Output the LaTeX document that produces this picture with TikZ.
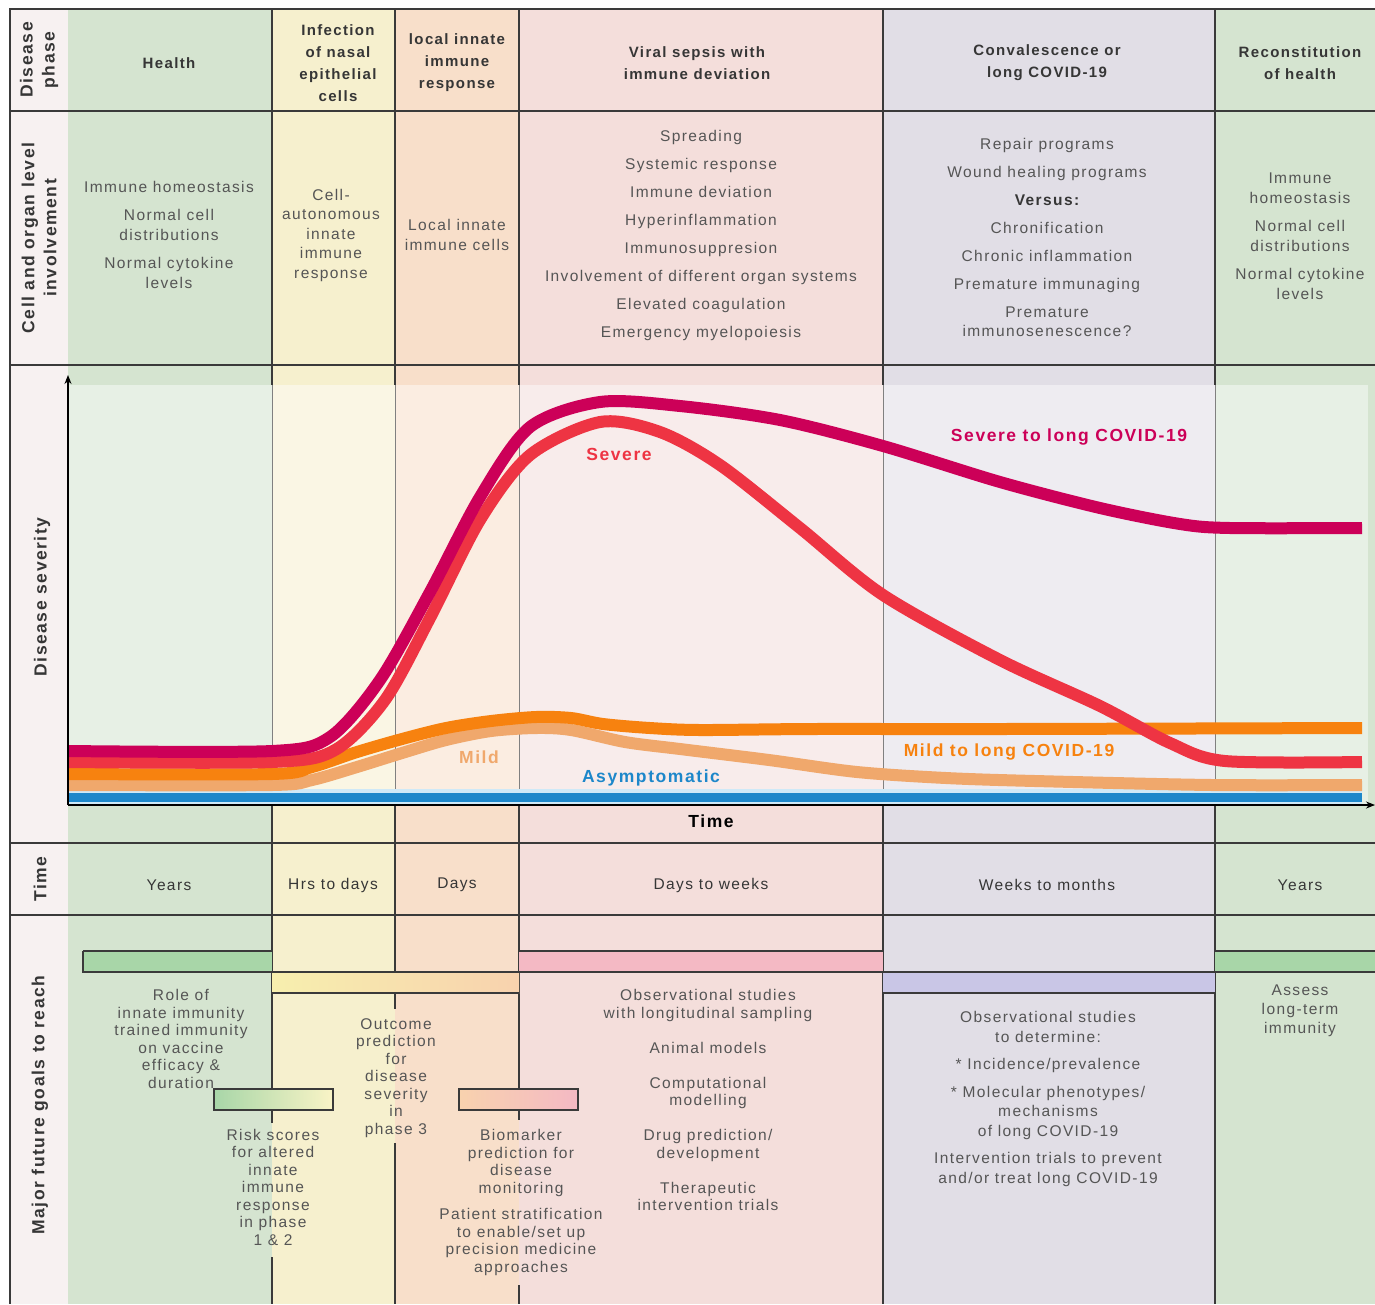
\documentclass[tikz,border=0pt]{standalone}
\usepackage{fontspec}
\setmainfont{Liberation Sans}[LetterSpace=9]
\usetikzlibrary{arrows.meta}

% phase colours
\definecolor{labcol}{HTML}{F7F1F1}
\definecolor{healthcol}{HTML}{D5E4D0}
\definecolor{infcol}{HTML}{F6F0CE}
\definecolor{loccol}{HTML}{F8DFCA}
\definecolor{sepcol}{HTML}{F4DEDB}
\definecolor{convcol}{HTML}{E1DEE6}
% curve colours
\definecolor{sevlong}{HTML}{CC0058}
\definecolor{sev}{HTML}{EE3443}
\definecolor{mildlong}{HTML}{F7820F}
\definecolor{mild}{HTML}{F0A86C}
\definecolor{asym}{HTML}{1D87CA}
\definecolor{asymhalo}{HTML}{CFE9F7}
% bar colours
\definecolor{bargreen}{HTML}{A8D6A8}
\definecolor{barpink}{HTML}{F4B9C4}
\definecolor{barlav}{HTML}{C9C6E6}
\definecolor{baryel}{HTML}{F7EFAE}
\definecolor{barpeach}{HTML}{F8D2AE}
% text and rules
\definecolor{txtgray}{HTML}{555555}
\definecolor{hdrgray}{HTML}{363636}
\definecolor{rulegray}{HTML}{3A3A3A}

\tikzset{
  hdr/.style={font=\fontsize{15}{22}\selectfont\bfseries, text=hdrgray, align=center, inner sep=0},
  rowlab/.style={font=\fontsize{17.5}{22}\selectfont\bfseries, text=hdrgray, align=center, rotate=90, inner sep=0},
  body/.style={font=\fontsize{15.5}{20}\selectfont, text=txtgray, align=center, inner sep=0},
  goal/.style={font=\fontsize{15.5}{17.5}\selectfont, text=txtgray, align=center, inner sep=0},
  tlab/.style={font=\fontsize{15.5}{20}\selectfont, text=hdrgray, inner sep=0},
  clab/.style={font=\fontsize{17.5}{20}\selectfont\bfseries, inner sep=0},
  curve/.style={line width=12pt, line cap=butt},
  rowrule/.style={rulegray, line width=1.6pt},
  colrule/.style={rulegray, line width=1.2pt},
  chartrule/.style={gray, line width=0.7pt},
  bar/.style={rulegray, line width=1.3pt},
}

\begin{document}
\begin{tikzpicture}[x=1pt, y=-1pt]
\useasboundingbox (0,0) rectangle (1375,1304);
\fill[white] (0,0) rectangle (1375,1304);

% phase columns
\fill[labcol] (10,9) rectangle (68,1304);
\fill[healthcol] (68,9) rectangle (272,1304);
\fill[infcol] (272,9) rectangle (395,1304);
\fill[loccol] (395,9) rectangle (519,1304);
\fill[sepcol] (519,9) rectangle (883,1304);
\fill[convcol] (883,9) rectangle (1215,1304);
\fill[healthcol] (1215,9) rectangle (1375,1304);

% veil behind the curves
\fill[white, opacity=0.45] (68,385) rectangle (1368,805);

% column rules
\foreach \xc in {272,395,519,883,1215} {
  \draw[colrule] (\xc,9) -- (\xc,385);
  \draw[chartrule] (\xc,385) -- (\xc,805);
  \draw[colrule] (\xc,805) -- (\xc,915);
}
\draw[colrule] (272,915) -- (272,1089) (272,1110) -- (272,1123) (272,1257) -- (272,1304);
\draw[colrule] (395,915) -- (395,972) (395,993) -- (395,1009) (395,1143) -- (395,1304);
\draw[colrule] (519,915) -- (519,1089) (519,1110) -- (519,1120) (519,1285) -- (519,1304);
\draw[colrule] (883,915) -- (883,1304) (1215,915) -- (1215,1304);

% row rules
\foreach \yr in {111,365,843,915}
  \draw[rowrule] (10,\yr) -- (1375,\yr);
\draw[rowrule] (1375,9) -- (10,9) -- (10,1304);

% row labels
\node[rowlab] (labphase) at (39,60) {Disease\\phase};
\node[rowlab] (labcell) at (39,238) {Cell and organ level\\involvement};
\node[rowlab] (labsev) at (42,597) {Disease severity};
\node[rowlab] (labtime) at (40,879) {Time};
\node[rowlab] (labgoal) at (40,1105) {Major future goals to reach};

% disease phases
\node[hdr] (hhealth) at (169,63) {Health};
\node[hdr] (hinf) at (338,63) {Infection\\of nasal\\epithelial\\cells};
\node[hdr] (hloc) at (457,63) {local innate\\immune\\response};
\node[hdr] (hsep) at (697,63) {Viral sepsis with\\immune deviation};
\node[hdr] (hconv) at (1047,63) {Convalescence or\\long COVID-19};
\node[hdr] (hrec) at (1300,63) {Reconstitution\\of health};

% cell and organ level
\node[body] (chealth) at (169,235) {Immune homeostasis\\[8pt]Normal cell\\distributions\\[8pt]Normal cytokine\\levels};
\node[body, font=\fontsize{15.5}{19.5}\selectfont] (cinf) at (331,235) {Cell-\\autonomous\\innate\\immune\\response};
\node[body, font=\fontsize{15.5}{19.5}\selectfont] (cloc) at (457,235) {Local innate\\immune cells};
\node[body, font=\fontsize{15.5}{28}\selectfont] (csep) at (701,235) {Spreading\\Systemic response\\Immune deviation\\Hyperinflammation\\Immunosuppresion\\Involvement of different organ systems\\Elevated coagulation\\Emergency myelopoiesis};
\node[body, font=\fontsize{15.5}{19}\selectfont] (cconv) at (1047,237) {Repair programs\\[9pt]Wound healing programs\\[9pt]\textcolor{hdrgray}{\bfseries Versus:}\\[9pt]Chronification\\[9pt]Chronic inflammation\\[9pt]Premature immunaging\\[9pt]Premature\\immunosenescence?};
\node[body] (crec) at (1300,236) {Immune\\homeostasis\\[8pt]Normal cell\\distributions\\[8pt]Normal cytokine\\levels};

% axes
\coordinate (origin) at (68,805);
\coordinate (ytop) at (68,375);
\coordinate (xend) at (1375,805);

% severity curves
\draw[asymhalo, line width=16pt] (68,797) -- (1362,797);
\draw[asym, line width=9pt] (68,797) -- (1362,797);
\draw[curve, mild] plot[smooth] coordinates {
(68,785) (272,785) (312,780) (357,767) (402,753) (446,740) (491,731) (536,728) (571,730) (625,742)
(680,749) (769,760) (857,772) (946,778) (1035,781) (1212,785) (1362,785)
};
\draw[curve, mildlong] plot[smooth] coordinates {
(68,774) (272,774) (312,767) (357,752) (402,739) (446,728) (491,721) (536,717) (571,718) (603,724)
(650,728) (700,730) (813,729) (1000,729) (1362,728)
};
\draw[curve, sev] plot[smooth] coordinates {
(68,762) (272,762) (335,750) (385,700) (430,618) (480,520) (530,455) (600,422) (660,432) (720,465)
(800,528) (883,595) (1000,660) (1100,706) (1170,743) (1225,761) (1362,762)
};
\draw[curve, sevlong] plot[smooth] coordinates {
(68,751) (272,751) (330,737) (380,680) (430,592) (480,497) (530,427) (600,402) (680,406) (780,420)
(883,446) (1000,482) (1100,508) (1180,524) (1230,528) (1362,528)
};

\draw[-{Stealth[length=9pt, width=7pt]}, black, line width=1.3pt] (origin) -- (ytop);
\draw[-{Stealth[length=9pt, width=7pt]}, black, line width=1.3pt] (origin) -- (xend);

% curve labels
\node[clab, text=sev] (lsev) at (619,454) {Severe};
\node[clab, text=sevlong] (lsevlong) at (1069,437) {Severe to long COVID-19};
\node[clab, text=mild] (lmild) at (479,757) {Mild};
\node[clab, text=mildlong] (lmildlong) at (1009,752) {Mild to long COVID-19};
\node[clab, text=asym] (lasym) at (651,778) {Asymptomatic};
\node[clab, text=black] (ltime) at (711,821) {Time};

% time scales
\node[tlab] (thealth) at (169,885) {Years};
\node[tlab] (tinf) at (333,885) {Hrs to days};
\node[tlab] (tloc) at (457,885) {Days};
\node[tlab] (tsep) at (711,885) {Days to weeks};
\node[tlab] (tconv) at (1047,885) {Weeks to months};
\node[tlab] (trec) at (1300,885) {Years};

% goal bars
\fill[bargreen] (83,951) rectangle (272,972);
\shade[left color=baryel, middle color=baryel!60!white, right color=barpeach] (272,972) rectangle (519,993);
\fill[barpink] (519,951) rectangle (883,972);
\fill[barlav] (883,972) rectangle (1215,993);
\fill[bargreen] (1215,951) rectangle (1375,972);
\draw[bar] (83,951) -- (272,951) (519,951) -- (883,951) (1215,951) -- (1375,951);
\draw[bar] (83,951) -- (83,972) -- (1375,972);
\draw[bar] (272,993) -- (519,993) (883,993) -- (1215,993);
\shade[left color=bargreen, right color=baryel!70!white] (214,1089) rectangle (333,1110);
\draw[bar] (214,1089) rectangle (333,1110);
\shade[left color=barpeach, right color=barpink] (459,1089) rectangle (578,1110);
\draw[bar] (459,1089) rectangle (578,1110);

% goals
\node[goal] (grole) at (181,1039) {Role of\\innate immunity\\trained immunity\\on vaccine\\efficacy \&\\duration};
\node[goal] (grisk) at (273,1187) {Risk scores\\for altered\\innate\\immune\\response\\in phase\\1 \& 2};
\node[goal] (gout) at (396,1078) {Outcome\\prediction\\for\\disease\\severity\\in\\phase 3};
\node[goal] (gbio) at (521,1163) {Biomarker\\prediction for\\disease\\monitoring};
\node[goal] (gpat) at (521,1242) {Patient stratification\\to enable/set up\\precision medicine\\approaches};
\node[goal] (gsep) at (708,1100) {Observational studies\\with longitudinal sampling\\[17.5pt]Animal models\\[17.5pt]Computational\\modelling\\[17.5pt]Drug prediction/\\development\\[17.5pt]Therapeutic\\intervention trials};
\node[goal, font=\fontsize{15.5}{19.5}\selectfont] (gconv) at (1048,1099) {Observational studies\\to determine:\\[8pt]* Incidence/prevalence\\[8pt]* Molecular phenotypes/\\mechanisms\\of long COVID-19\\[8pt]Intervention trials to prevent\\and/or treat long COVID-19};
\node[goal, font=\fontsize{15.5}{19}\selectfont] (grec) at (1300,1011) {Assess\\long-term\\immunity};

\end{tikzpicture}
\end{document}
